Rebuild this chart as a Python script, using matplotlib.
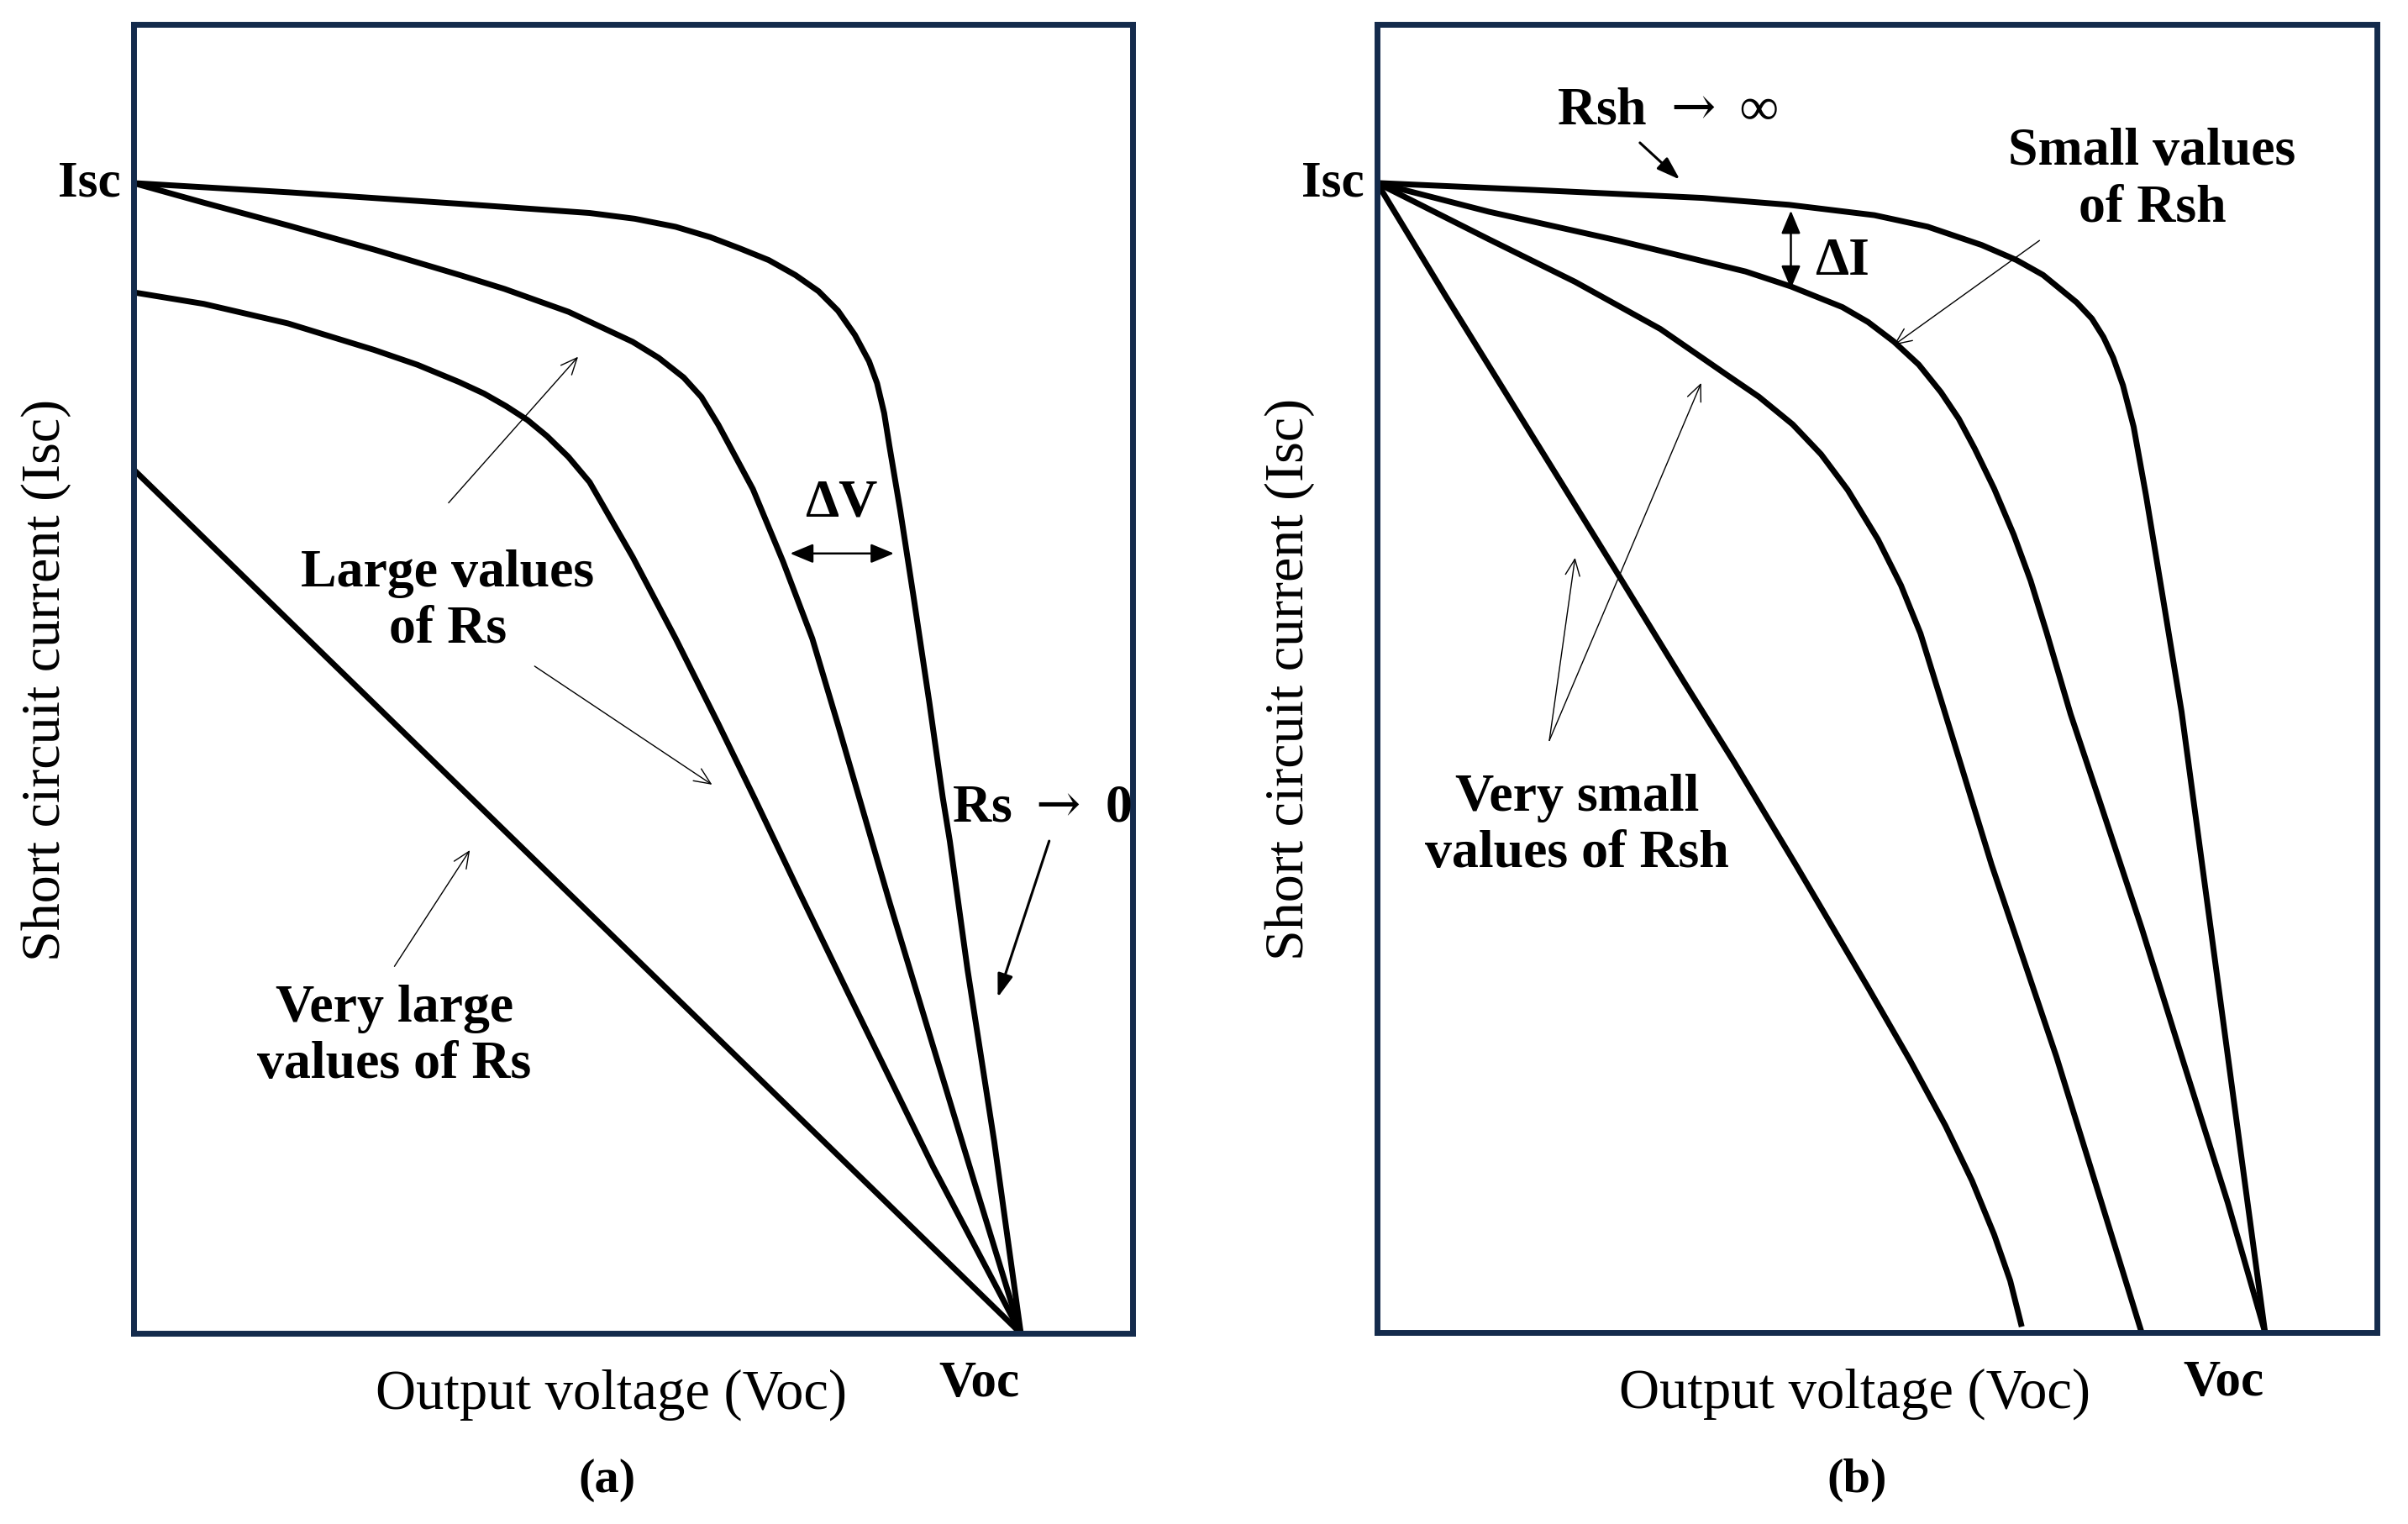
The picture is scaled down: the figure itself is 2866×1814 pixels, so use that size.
import matplotlib
matplotlib.use("Agg")
import matplotlib.pyplot as plt

plt.rcParams['font.family'] = ['Liberation Serif', 'DejaVu Serif']
plt.rcParams['mathtext.fontset'] = 'dejavuserif'

# --- data: normalised voltage (V/Voc) and current (I/Isc) ---
# (a) effect of series resistance
rs0_v = [0.0, 0.175, 0.368, 0.514, 0.565, 0.611, 0.650, 0.684, 0.716, 0.746, 0.772,
         0.794, 0.813, 0.829, 0.838, 0.846, 0.852, 0.864, 0.879, 0.897, 0.912, 0.920,
         0.940, 0.970, 1.0]
rs0_i = [1.0, 0.992, 0.982, 0.974, 0.969, 0.962, 0.953, 0.943, 0.933, 0.920, 0.906,
         0.889, 0.868, 0.845, 0.826, 0.800, 0.771, 0.716, 0.641, 0.548, 0.466, 0.428,
         0.316, 0.167, 0.0]

rs_mid_v = [0.0, 0.079, 0.175, 0.272, 0.368, 0.418, 0.4905, 0.5625, 0.592, 0.620, 0.640,
            0.659, 0.698, 0.732, 0.765, 0.794, 0.852, 0.901, 0.949, 1.0]
rs_mid_i = [1.0, 0.983, 0.963, 0.942, 0.920, 0.908, 0.888, 0.862, 0.848, 0.831, 0.814,
            0.790, 0.734, 0.671, 0.604, 0.529, 0.375, 0.250, 0.128, 0.0]

rs_large_v = [0.0, 0.079, 0.174, 0.271, 0.320, 0.367, 0.395, 0.420, 0.444, 0.466, 0.490,
              0.514, 0.5625, 0.611, 0.659, 0.700, 0.750, 0.804, 0.901, 1.0]
rs_large_i = [0.905, 0.895, 0.878, 0.855, 0.842, 0.827, 0.817, 0.806, 0.794, 0.780, 0.762,
              0.740, 0.675, 0.604, 0.530, 0.465, 0.384, 0.298, 0.145, 0.0]

rs_vlarge_v = [0.0, 1.0]
rs_vlarge_i = [0.751, 0.0]

# (b) effect of shunt resistance
rsh_inf_v = [0.0, 0.175, 0.367, 0.464, 0.560, 0.620, 0.681, 0.720, 0.750, 0.788, 0.805,
             0.818, 0.829, 0.840, 0.852, 0.866, 0.885, 0.906, 0.933, 0.962, 1.0]
rsh_inf_i = [1.0, 0.994, 0.987, 0.981, 0.972, 0.962, 0.946, 0.933, 0.920, 0.896, 0.882,
             0.866, 0.848, 0.824, 0.788, 0.728, 0.639, 0.540, 0.385, 0.218, 0.0]

rsh_small_v = [0.0, 0.126, 0.271, 0.415, 0.466, 0.524, 0.553, 0.582, 0.610, 0.635, 0.655,
               0.673, 0.695, 0.717, 0.736, 0.754, 0.781, 0.813, 0.861, 0.909, 0.958, 1.0]
rsh_small_i = [1.0, 0.975, 0.950, 0.923, 0.910, 0.892, 0.879, 0.862, 0.842, 0.818, 0.795,
               0.769, 0.734, 0.694, 0.654, 0.609, 0.538, 0.464, 0.352, 0.233, 0.113, 0.0]

rsh_vsmall1_v = [0.0, 0.126, 0.223, 0.319, 0.394, 0.430, 0.468, 0.500, 0.530, 0.564,
                 0.590, 0.612, 0.636, 0.692, 0.765, 0.861]
rsh_vsmall1_i = [1.0, 0.951, 0.914, 0.873, 0.833, 0.814, 0.790, 0.764, 0.733, 0.690,
                 0.650, 0.608, 0.548, 0.407, 0.240, 0.0]

rsh_vsmall2_v = [0.0, 0.077, 0.174, 0.271, 0.344, 0.403, 0.473, 0.553, 0.600, 0.640,
                 0.670, 0.695, 0.713, 0.726]
rsh_vsmall2_i = [1.0, 0.902, 0.781, 0.660, 0.568, 0.495, 0.405, 0.300, 0.237, 0.180,
                 0.132, 0.085, 0.045, 0.005]

FRAME = '#142b4c'
LW = 5
TXT = 46

fig = plt.figure(figsize=(28.66, 18.15), dpi=100)
ax_a = fig.add_axes([0.05548, 0.12507, 0.41486, 0.85840])
ax_b = fig.add_axes([0.57188, 0.12562, 0.41521, 0.85785])

for ax in (ax_a, ax_b):
    ax.set_xlim(0, 1.126)
    ax.set_ylim(0, 1.138)
    ax.set_xticks([])
    ax.set_yticks([])
    for s in ax.spines.values():
        s.set_color(FRAME)
        s.set_linewidth(5)
    # axis texts
    ax.text(-0.015, 1.0, 'Isc', ha='right', va='center', fontsize=44, fontweight='bold')
    ax.text(0.953, -0.043, 'Voc', ha='center', va='center', fontsize=44,
            fontweight='bold', clip_on=False)
    ax.text(0.538, -0.053, 'Output voltage (Voc)', ha='center', va='center', fontsize=48,
            clip_on=False)
    ax.text(-0.098, 0.569, 'Short circuit current (Isc)', ha='center', va='center',
            fontsize=47.5, rotation=90, clip_on=False)

ax_a.text(0.534, -0.127, '(a)', ha='center', va='center', fontsize=42, fontweight='bold')
ax_b.text(0.540, -0.128, '(b)', ha='center', va='center', fontsize=42, fontweight='bold')

thin = dict(arrowstyle='->,head_length=0.5,head_width=0.22', lw=1.0, color='black',
            shrinkA=0, shrinkB=0, mutation_scale=28)
mid = dict(arrowstyle='-|>,head_length=0.6,head_width=0.2', lw=2.2, color='black',
           shrinkA=0, shrinkB=0, mutation_scale=28)
dbl = dict(arrowstyle='<|-|>,head_length=0.6,head_width=0.25', lw=1.8, color='black',
           shrinkA=0, shrinkB=0, mutation_scale=28)

# ---- panel (a) ----
for v, i in [(rs0_v, rs0_i), (rs_mid_v, rs_mid_i), (rs_large_v, rs_large_i),
             (rs_vlarge_v, rs_vlarge_i)]:
    ax_a.plot(v, i, color='black', lw=LW, solid_capstyle='butt', solid_joinstyle='round')

ax_a.text(0.354, 0.637, 'Large values\nof Rs', ha='center', va='center', fontsize=TXT,
          fontweight='bold', linespacing=1.2)
ax_a.annotate('', xy=(0.501, 0.849), xytext=(0.355, 0.722), arrowprops=thin)
ax_a.annotate('', xy=(0.652, 0.477), xytext=(0.452, 0.580), arrowprops=thin)

ax_a.text(0.798, 0.722, 'ΔV', ha='center', va='center', fontsize=TXT, fontweight='bold')
ax_a.annotate('', xy=(0.857, 0.678), xytext=(0.740, 0.678), arrowprops=dbl)

ax_a.text(1.024, 0.457, r'Rs$\;\rightarrow\;$0', ha='center', va='center', fontsize=TXT,
          fontweight='bold')
ax_a.annotate('', xy=(0.974, 0.292), xytext=(1.032, 0.428), arrowprops=mid)

ax_a.text(0.294, 0.258, 'Very large\nvalues of Rs', ha='center', va='center',
          fontsize=TXT, fontweight='bold', linespacing=1.2)
ax_a.annotate('', xy=(0.379, 0.420), xytext=(0.294, 0.319), arrowprops=thin)

# ---- panel (b) ----
for v, i in [(rsh_inf_v, rsh_inf_i), (rsh_small_v, rsh_small_i),
             (rsh_vsmall1_v, rsh_vsmall1_i), (rsh_vsmall2_v, rsh_vsmall2_i)]:
    ax_b.plot(v, i, color='black', lw=LW, solid_capstyle='butt', solid_joinstyle='round')

ax_b.text(0.327, 1.063, r'Rsh$\;\rightarrow\;$∞', ha='center', va='center', fontsize=TXT,
          fontweight='bold')
ax_b.annotate('', xy=(0.341, 1.003), xytext=(0.296, 1.035), arrowprops=mid)

ax_b.text(0.524, 0.932, 'ΔI', ha='center', va='center', fontsize=TXT, fontweight='bold')
ax_b.annotate('', xy=(0.466, 0.976), xytext=(0.466, 0.908), arrowprops=dbl)

ax_b.text(0.873, 1.003, 'Small values\nof Rsh', ha='center', va='center', fontsize=TXT,
          fontweight='bold', linespacing=1.2)
ax_b.annotate('', xy=(0.582, 0.859), xytext=(0.746, 0.950), arrowprops=thin)

ax_b.text(0.225, 0.441, 'Very small\nvalues of Rsh', ha='center', va='center',
          fontsize=TXT, fontweight='bold', linespacing=1.2)
ax_b.annotate('', xy=(0.223, 0.674), xytext=(0.194, 0.515), arrowprops=thin)
ax_b.annotate('', xy=(0.365, 0.826), xytext=(0.194, 0.515), arrowprops=thin)

fig.savefig('out.png', dpi=100, facecolor='white')
